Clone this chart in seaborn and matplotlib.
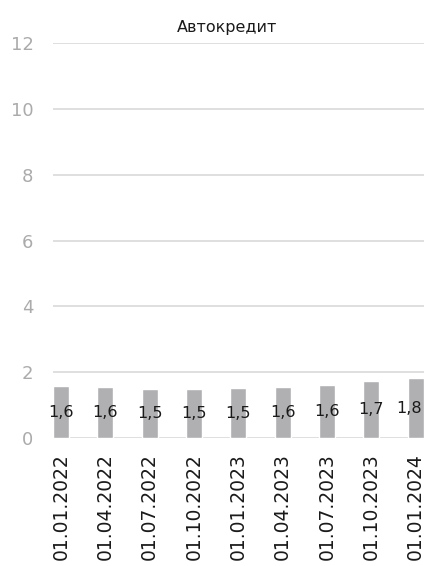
import matplotlib
matplotlib.use("Agg")
import matplotlib.pyplot as plt
import seaborn as sns
import pandas as pd

dates = ["01.01.2022", "01.04.2022", "01.07.2022", "01.10.2022", "01.01.2023",
         "01.04.2023", "01.07.2023", "01.10.2023", "01.01.2024"]
values = [1.58, 1.56, 1.50, 1.48, 1.52, 1.56, 1.62, 1.74, 1.82]
title = "Автокредит"

df = pd.DataFrame({"date": dates, "value": values})

sns.set_theme(style="white")
plt.rcParams["font.family"] = ["DejaVu Sans"]

fig = plt.figure(figsize=(4.24, 5.66), dpi=100)
ax = fig.add_axes([0.125, 0.226, 0.875, 0.698])

sns.barplot(data=df, x="date", y="value", color="#b0b0b2", width=0.36,
            saturation=1, ax=ax, zorder=3)

xmax = 8.19
for i, v in enumerate(values):
    lbl = f"{v:.1f}".replace(".", ",")
    if i == len(values) - 1:
        ax.text(xmax - 0.05, v / 2, lbl, ha="right", va="center",
                fontsize=11.5, color="#1a1a1a", zorder=4)
    else:
        ax.text(i, v / 2, lbl, ha="center", va="center",
                fontsize=11.5, color="#1a1a1a", zorder=4)

ax.set_ylim(0, 12)
ax.set_xlim(-0.18, xmax)
ax.set_yticks(range(0, 13, 2))
ax.yaxis.grid(True, color="#d9d9d9", linewidth=1.2, zorder=0)
ax.set_axisbelow(True)
for s in ax.spines.values():
    s.set_visible(False)
ax.set_xlabel("")
ax.set_ylabel("")
ax.tick_params(axis="y", labelsize=13, colors="#ababab", pad=14, length=0)
ax.tick_params(axis="x", labelsize=13.5, colors="#1a1a1a", rotation=90, pad=11, length=0)
ax.text(0.47, 1.02, title, transform=ax.transAxes, ha="center", va="bottom",
        fontsize=11.5, color="#1a1a1a")

fig.savefig("out.png", dpi=100)
